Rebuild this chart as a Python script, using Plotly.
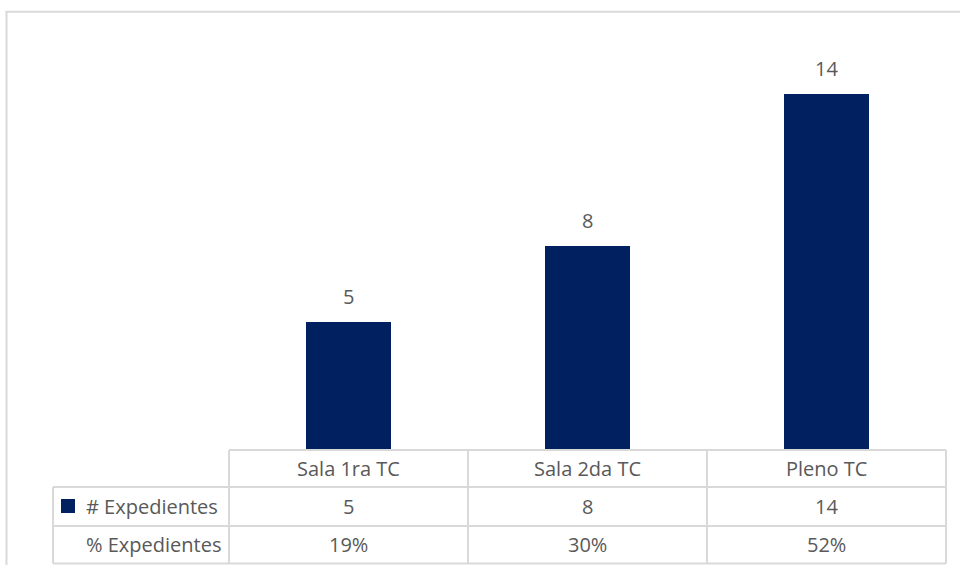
import plotly.graph_objects as go

# Chart data
categories = ["Sala 1ra TC", "Sala 2da TC", "Pleno TC"]
expedientes = [5, 8, 14]
series_names = ["# Expedientes", "% Expedientes"]

total = sum(expedientes)
porcentajes = [f"{round(v / total * 100)}%" for v in expedientes]

BAR_COLOR = "#002060"
GRID_COLOR = "#d9d9d9"
TEXT_COLOR = "#595959"
FONT = "'Open Sans', Lato, sans-serif"
FS = 20

W, H = 960, 565
# plot-area edges in pixels
PL, PR, PT, PB = 229, 946, 43, 449


def px(x):
    return (x - PL) / (PR - PL)


def py(y):
    return (PB - y) / (PB - PT)


fig = go.Figure()
fig.add_trace(go.Bar(
    x=list(range(len(categories))),
    y=expedientes,
    width=0.356,
    marker=dict(color=BAR_COLOR, line=dict(width=0)),
    hoverinfo="skip",
    showlegend=False,
))

shapes = []
annotations = []


def line(x0, y0, x1, y1, color=GRID_COLOR, width=2):
    shapes.append(dict(type="line", xref="paper", yref="paper",
                       x0=px(x0), y0=py(y0), x1=px(x1), y1=py(y1),
                       line=dict(color=color, width=width)))


# outer chart border
shapes.append(dict(type="rect", xref="paper", yref="paper",
                   x0=px(6.5), y0=py(11.8), x1=px(975), y1=py(580),
                   line=dict(color=GRID_COLOR, width=2), fillcolor="rgba(0,0,0,0)"))

# data table grid
row_y = [450, 487, 526, 563.5]
col_x = [229, 468, 707, 946]
line(229, row_y[0], 946, row_y[0])
for y in row_y[1:]:
    line(53, y, 946, y)
for x in col_x:
    line(x, row_y[0], x, row_y[-1])
line(53, row_y[1], 53, row_y[-1])

# legend key
shapes.append(dict(type="rect", xref="paper", yref="paper",
                   x0=px(61), y0=py(499), x1=px(75), y1=py(513),
                   line=dict(width=0), fillcolor=BAR_COLOR))

font = dict(family=FONT, size=FS, color=TEXT_COLOR)

# value labels above bars
for i, v in enumerate(expedientes):
    annotations.append(dict(x=i, y=v, xref="x", yref="y", text=str(v),
                            showarrow=False, yanchor="bottom", yshift=10, font=font))

# table contents
row_centers = [(row_y[k] + row_y[k + 1]) / 2 for k in range(3)]
for i, cat in enumerate(categories):
    for text, yc in zip([cat, str(expedientes[i]), porcentajes[i]], row_centers):
        annotations.append(dict(x=i, y=py(yc), xref="x", yref="paper", text=text,
                                showarrow=False, xanchor="center", yanchor="middle", font=font))
for name, yc in zip(series_names, row_centers[1:]):
    annotations.append(dict(x=px(84), y=py(yc), xref="paper", yref="paper", text=name,
                            showarrow=False, xanchor="left", yanchor="middle", font=font))

fig.update_layout(
    width=W, height=H,
    margin=dict(l=PL, r=W - PR, t=PT, b=H - PB, pad=0),
    paper_bgcolor="white",
    plot_bgcolor="white",
    xaxis=dict(range=[-0.5, len(categories) - 0.5], visible=False, fixedrange=True),
    yaxis=dict(range=[0, 16], visible=False, fixedrange=True),
    shapes=shapes,
    annotations=annotations,
    bargap=0,
)

fig.write_html("out.html", config={"displayModeBar": False})
